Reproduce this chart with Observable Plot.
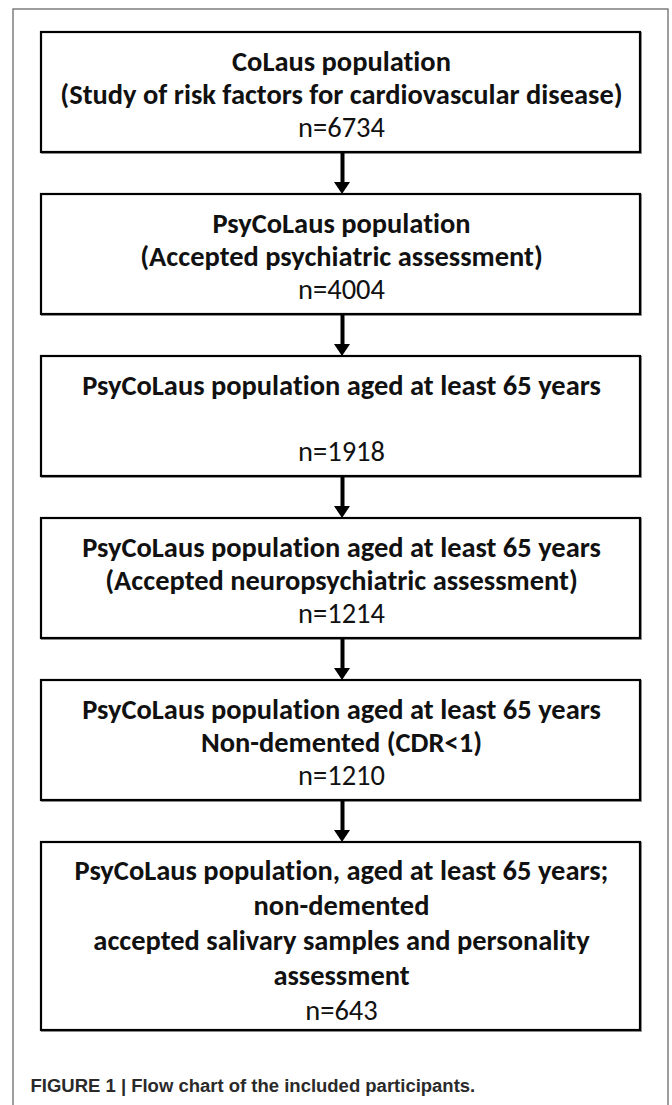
<!DOCTYPE html>
<html><head><meta charset="utf-8">
<script src="https://cdn.jsdelivr.net/npm/d3@7"></script>
<script src="https://cdn.jsdelivr.net/npm/@observablehq/plot@0.6"></script>
<style>html,body{margin:0;padding:0;background:#fff;} svg text{font-variant-ligatures:none;font-feature-settings:"liga" 0,"dlig" 0;}</style>
</head><body><div id="chart"></div>
<script>
// ---- data ----
const stageTitles = [
  ["CoLaus population", "(Study of risk factors for cardiovascular disease)"],
  ["PsyCoLaus population", "(Accepted psychiatric assessment)"],
  ["PsyCoLaus population aged at least 65 years", ""],
  ["PsyCoLaus population aged at least 65 years", "(Accepted neuropsychiatric assessment)"],
  ["PsyCoLaus population aged at least 65 years", "Non-demented (CDR<1)"],
  ["PsyCoLaus population, aged at least 65 years;", "non-demented", "accepted salivary samples and personality", "assessment"]
];
const counts = [6734, 4004, 1918, 1214, 1210, 643];
const captionText = "FIGURE 1 | Flow chart of the included participants.";

// ---- layout ----
const W = 672, H = 1105;
const boxX1 = 41, boxX2 = 640, cx = 341, arrowX = 342;
const top0 = 32, gap = 42;
const headH = 12, headHalf = 8;

const ctx = document.createElement("canvas").getContext("2d");
function tw(text, font) { ctx.font = font; return ctx.measureText(text).width; }
const mainFamily = "Carlito, Lato, sans-serif";
const fsA = 574 / tw("(Study of risk factors for cardiovascular disease)", `bold 100px ${mainFamily}`) * 100;
const fsB = 508 / tw("PsyCoLaus population aged at least 65 years", `bold 100px ${mainFamily}`) * 100;
const fs = (fsA + fsB) / 2;
const capFamily = "'Liberation Sans Narrow', 'Arial Narrow', sans-serif";
const capFs = 445 / tw(captionText, `bold 100px ${capFamily}`) * 100;

const boxes = [];
let yTop = top0;
stageTitles.forEach((t, i) => {
  const n = t.length + 1;
  const lh = n > 3 ? 35 : 33;
  const h = n * lh + (n > 3 ? 13 : 21);
  boxes.push({i, top: yTop, bottom: yTop + h, n, lh});
  yTop += h + gap;
});

const lines = [];
boxes.forEach((b, i) => {
  const c = (b.top + b.bottom) / 2 + (b.n > 3 ? 4 : 2);
  const all = [...stageTitles[i].map(s => ({s, bold: true})), {s: `n=${counts[i]}`, bold: false}];
  all.forEach((l, j) => {
    lines.push({text: l.s, bold: l.bold, y: c + (j - (all.length - 1) / 2) * b.lh});
  });
});

const arrows = [], heads = [];
for (let i = 0; i < boxes.length - 1; i++) {
  const y1 = boxes[i].bottom, tip = boxes[i + 1].top;
  arrows.push({y1, y2: tip - headH + 1});
  heads.push({k: i, x: arrowX - headHalf, y1: tip - headH, y2: tip - headH});
  heads.push({k: i, x: arrowX, y1: tip - headH, y2: tip});
  heads.push({k: i, x: arrowX + headHalf, y1: tip - headH, y2: tip - headH});
}

const chart = Plot.plot({
  width: W, height: H, margin: 0,
  x: {domain: [0, W], range: [0, W], axis: null},
  y: {domain: [0, H], range: [0, H], axis: null},
  style: {background: "white"},
  marks: [
    Plot.rect([{x1: 13, x2: 668, y1: 9, y2: H + 20}], {x1: "x1", x2: "x2", y1: "y1", y2: "y2", fill: "none", stroke: "#6a6a6a", strokeWidth: 1.3}),
    Plot.rect(boxes, {x1: () => boxX1 + 1, x2: () => boxX2 + 1, y1: d => d.top + 1, y2: d => d.bottom + 1, fill: "none", stroke: "#9a9a9a", strokeWidth: 2}),
    Plot.rect(boxes, {x1: () => boxX1, x2: () => boxX2, y1: "top", y2: "bottom", fill: "white", stroke: "#000", strokeWidth: 2.2}),
    Plot.link(arrows, {x1: () => arrowX, x2: () => arrowX, y1: "y1", y2: "y2", stroke: "#000", strokeWidth: 4}),
    Plot.areaY(heads, {x: "x", y1: "y1", y2: "y2", z: "k", fill: "#000", curve: "linear"}),
    Plot.text(lines.filter(d => d.bold), {x: () => cx, y: "y", text: "text", fontSize: fs, fontWeight: "bold", fontFamily: mainFamily, fill: "#111", textAnchor: "middle", lineAnchor: "middle"}),
    Plot.text(lines.filter(d => !d.bold), {x: () => cx, y: "y", text: "text", fontSize: fs, fontWeight: "normal", fontFamily: mainFamily, fill: "#111", textAnchor: "middle", lineAnchor: "middle"}),
    Plot.text([captionText], {x: () => 30, y: () => 1086, text: d => d, fontSize: capFs, fontWeight: "bold", fontFamily: capFamily, fill: "#2a2a2a", textAnchor: "start", lineAnchor: "middle"})
  ]
});
document.getElementById("chart").appendChild(chart);
</script>
</body></html>
